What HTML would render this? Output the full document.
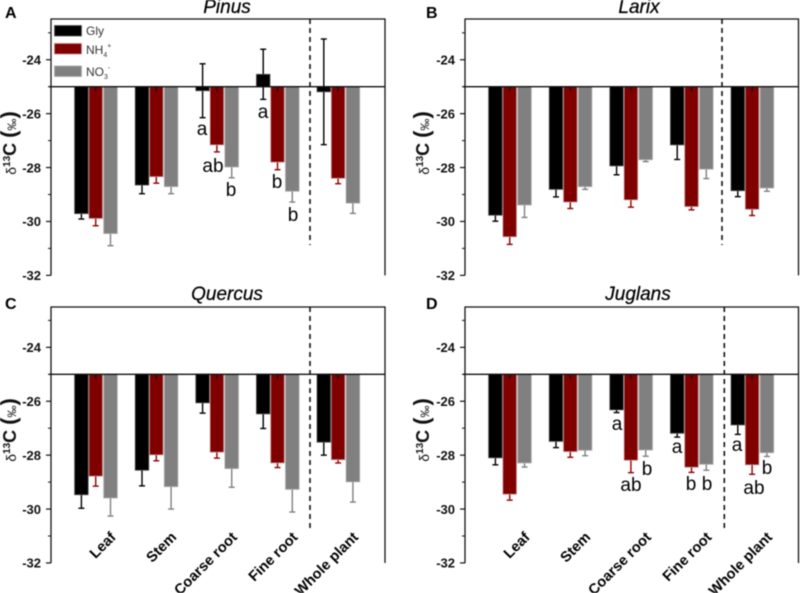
<!DOCTYPE html>
<html>
<head>
<meta charset="utf-8">
<title>δ13C by organ and nitrogen source</title>
<style>
html,body{margin:0;padding:0;background:#fff;}
svg{display:block;filter:blur(0.45px);}
text{font-family:"Liberation Sans",sans-serif;fill:#000;}
.panel-letter{font-size:16px;font-weight:bold;}
.title{font-size:19px;font-style:italic;text-anchor:middle;stroke:#000;stroke-width:0.25px;}
.tick{font-size:13px;font-weight:bold;text-anchor:end;fill:#111;}
.sig{font-size:19px;text-anchor:middle;fill:#000;}
.legend{font-size:12px;fill:#333;}
.cat{font-size:14.6px;font-weight:bold;text-anchor:end;fill:#000;}
.ytitle{font-size:18px;font-weight:bold;text-anchor:middle;fill:#111;}
</style>
</head>
<body>
<svg id="chart" width="800" height="593" viewBox="0 0 800 593" xmlns="http://www.w3.org/2000/svg">
  <text class="panel-letter" x="5" y="18">A</text>
  <text class="panel-letter" x="426" y="18">B</text>
  <text class="panel-letter" x="5" y="309">C</text>
  <text class="panel-letter" x="426" y="309">D</text>
  <text class="title" x="227" y="13">Pinus</text>
  <text class="title" x="639" y="13">Larix</text>
  <text class="title" x="227" y="300">Quercus</text>
  <text class="title" x="638" y="300">Juglans</text>

  <g id="panels"></g>

  <text class="ytitle" transform="translate(16,143) rotate(-90)"><tspan font-weight="normal" font-size="14">δ</tspan><tspan font-size="10" dy="-6">13</tspan><tspan dy="6">C </tspan><tspan font-size="22">(</tspan><tspan font-size="12" font-weight="normal">‰</tspan><tspan font-size="22">)</tspan></text>
  <text class="ytitle" transform="translate(429,143) rotate(-90)"><tspan font-weight="normal" font-size="14">δ</tspan><tspan font-size="10" dy="-6">13</tspan><tspan dy="6">C </tspan><tspan font-size="22">(</tspan><tspan font-size="12" font-weight="normal">‰</tspan><tspan font-size="22">)</tspan></text>
  <text class="ytitle" transform="translate(16,430) rotate(-90)"><tspan font-weight="normal" font-size="14">δ</tspan><tspan font-size="10" dy="-6">13</tspan><tspan dy="6">C </tspan><tspan font-size="22">(</tspan><tspan font-size="12" font-weight="normal">‰</tspan><tspan font-size="22">)</tspan></text>
  <text class="ytitle" transform="translate(429,430) rotate(-90)"><tspan font-weight="normal" font-size="14">δ</tspan><tspan font-size="10" dy="-6">13</tspan><tspan dy="6">C </tspan><tspan font-size="22">(</tspan><tspan font-size="12" font-weight="normal">‰</tspan><tspan font-size="22">)</tspan></text>

  <g>
    <rect x="54.5" y="25.5" width="27" height="10.5" fill="#000" stroke="#555" stroke-width="0.8"/>
    <rect x="54.5" y="43.5" width="27" height="10.5" fill="#800000" stroke="#b88" stroke-width="0.8"/>
    <rect x="54.5" y="66" width="27" height="10.5" fill="#808080" stroke="#aaa" stroke-width="0.8"/>
    <text class="legend" x="86" y="35">Gly</text>
    <text class="legend" x="86" y="54">NH<tspan font-size="7" dy="3">4</tspan><tspan font-size="7" dy="-9">+</tspan></text>
    <text class="legend" x="86" y="76">NO<tspan font-size="7" dy="3">3</tspan><tspan font-size="7" dy="-9">-</tspan></text>
  </g>

  <g>
    <text class="sig" x="202" y="135">a</text>
    <text class="sig" x="213" y="172">ab</text>
    <text class="sig" x="231" y="196">b</text>
    <text class="sig" x="263" y="118">a</text>
    <text class="sig" x="277" y="188">b</text>
    <text class="sig" x="293" y="221">b</text>
    <text class="sig" x="617" y="430">a</text>
    <text class="sig" x="631" y="491">ab</text>
    <text class="sig" x="647" y="475">b</text>
    <text class="sig" x="677" y="453">a</text>
    <text class="sig" x="691" y="490">b</text>
    <text class="sig" x="707" y="490">b</text>
    <text class="sig" x="737" y="451">a</text>
    <text class="sig" x="754" y="494">ab</text>
    <text class="sig" x="767" y="474">b</text>
  </g>
</svg>
<script>
const categories = ['Leaf', 'Stem', 'Coarse root', 'Fine root', 'Whole plant'];
const majorTicks = [-24, -26, -28, -30, -32];
const minorTicks = [-23, -25, -27, -29, -31];
const seriesNames = ['gly', 'nh4', 'no3'];

const pinusGly = [-29.71, -28.65, -25.15, -24.54, -25.19];
const pinusNh4 = [-29.89, -28.34, -27.16, -27.80, -28.40];
const pinusNo3 = [-30.45, -28.71, -27.98, -28.88, -29.32];
const pinusGlyErr = [0.20, 0.32, 1.00, 0.93, 1.96];
const pinusNh4Err = [0.27, 0.24, 0.26, 0.28, 0.20];
const pinusNo3Err = [0.45, 0.26, 0.40, 0.40, 0.38];

const larixGly = [-29.77, -28.81, -27.94, -27.16, -28.86];
const larixNh4 = [-30.57, -29.28, -29.20, -29.45, -29.55];
const larixNo3 = [-29.39, -28.71, -27.71, -28.06, -28.76];
const larixGlyErr = [0.22, 0.28, 0.33, 0.54, 0.22];
const larixNh4Err = [0.28, 0.24, 0.27, 0.12, 0.23];
const larixNo3Err = [0.46, 0.10, 0.07, 0.35, 0.12];

const quercusGly = [-29.47, -28.56, -26.06, -26.47, -27.52];
const quercusNh4 = [-28.78, -27.99, -27.89, -28.29, -28.17];
const quercusNo3 = [-29.59, -29.17, -28.50, -29.27, -28.99];
const quercusGlyErr = [0.50, 0.58, 0.38, 0.54, 0.48];
const quercusNh4Err = [0.37, 0.22, 0.22, 0.17, 0.12];
const quercusNo3Err = [0.67, 0.83, 0.69, 0.84, 0.75];

const juglansGly = [-28.10, -27.49, -26.32, -27.19, -26.88];
const juglansNh4 = [-29.45, -27.87, -28.19, -28.45, -28.36];
const juglansNo3 = [-28.29, -27.82, -27.81, -28.34, -27.91];
const juglansGlyErr = [0.26, 0.23, 0.10, 0.14, 0.35];
const juglansNh4Err = [0.22, 0.21, 0.46, 0.19, 0.35];
const juglansNo3Err = [0.15, 0.20, 0.23, 0.22, 0.14];

const fills = ['#000000', '#800000', '#808080'];
const edges = ['#555555', '#c49a9a', '#adadad'];
const errColors = ['#000000', '#8f0000', '#808080'];

const panels = [
  { id: 'pinus', left: 51, right: 385, top: 19, zero: 86.7, first: 95.7, dash: 310, dashEnd: 245, labels: false,
    means: [pinusGly, pinusNh4, pinusNo3], errs: [pinusGlyErr, pinusNh4Err, pinusNo3Err] },
  { id: 'larix', left: 465, right: 798.5, top: 19, zero: 86.7, first: 509.7, dash: 722, dashEnd: 245, labels: false,
    means: [larixGly, larixNh4, larixNo3], errs: [larixGlyErr, larixNh4Err, larixNo3Err] },
  { id: 'quercus', left: 51, right: 385, top: 307, zero: 374.3, first: 95.7, dash: 310, dashEnd: 532, labels: true,
    means: [quercusGly, quercusNh4, quercusNo3], errs: [quercusGlyErr, quercusNh4Err, quercusNo3Err] },
  { id: 'juglans', left: 465, right: 798.5, top: 307, zero: 374.3, first: 509.7, dash: 724.3, dashEnd: 532, labels: true,
    means: [juglansGly, juglansNh4, juglansNo3], errs: [juglansGlyErr, juglansNh4Err, juglansNo3Err] }
];

const NS = 'http://www.w3.org/2000/svg';
const UNIT = 26.95;
const STEP = 60.6;
const BAR_W = 13.6;
const OFFSETS = [-14.3, 0, 14.8];
const root = document.getElementById('panels');

function make(parent, tag, props) {
  const el = document.createElementNS(NS, tag);
  for (const k in props) el.setAttribute(k, props[k]);
  parent.appendChild(el);
  return el;
}

function drawPanel(p) {
  const yAxis = function (v) { return p.zero + (-25 - v) * UNIT; };
  const xAxis = function (i) { return p.first + i * STEP; };
  const bottom = yAxis(-32);

  const g = make(root, 'g', {});
  
  

  p.means.forEach(function (values, s) {
    values.forEach(function (v, i) {
      const cx = xAxis(i) + OFFSETS[s];
      const e = p.errs[s][i];
      const stem = make(g, 'line', { x1: cx, x2: cx, y1: yAxis(v + e), y2: yAxis(v - e), stroke: errColors[s], 'stroke-width': 1.4 });
      
      
      [v + e, v - e].forEach(function (end) {
        const cap = make(g, 'line', { x1: cx - 3, x2: cx + 3, y1: yAxis(end), y2: yAxis(end), stroke: errColors[s], 'stroke-width': 1.4 });
        
        
      });
    });
  });

  p.means.forEach(function (values, s) {
    values.forEach(function (v, i) {
      const cx = xAxis(i) + OFFSETS[s];
      const y0 = Math.min(yAxis(v), yAxis(-25));
      const y1 = Math.max(yAxis(v), yAxis(-25));
      const bar = make(g, 'rect', { x: cx - BAR_W / 2, y: y0, width: BAR_W, height: y1 - y0, fill: fills[s], stroke: edges[s], 'stroke-width': 0.8 });
      
      
    });
  });

  categories.forEach(function (name, i) {
    const tk = make(g, 'line', { x1: xAxis(i), x2: xAxis(i), y1: p.zero, y2: p.zero + 5, stroke: '#111', 'stroke-width': 1.2 });
    
    
    if (p.labels) {
      const lx = xAxis(i) + 21;
      const ly = 538;
      const label = make(g, 'text', { class: 'cat', x: lx, y: ly, transform: 'rotate(-45 ' + lx + ' ' + ly + ')' });
      label.textContent = name;
      
      
    }
  });

  const frame = make(g, 'path', { d: 'M' + p.left + ' ' + bottom + 'V' + p.top + 'H' + p.right + 'V' + bottom, fill: 'none', stroke: '#111', 'stroke-width': 1.3 });
  
  

  const zeroLine = make(g, 'line', { x1: p.left - 2, x2: p.right, y1: p.zero, y2: p.zero, stroke: '#111', 'stroke-width': 1.4 });
  
  

  const dash = make(g, 'line', { x1: p.dash, x2: p.dash, y1: p.top, y2: p.dashEnd, stroke: '#111', 'stroke-width': 1.6, 'stroke-dasharray': '5 4' });
  
  

  majorTicks.forEach(function (v) {
    const t = make(g, 'line', { x1: p.left - 5, x2: p.left, y1: yAxis(v), y2: yAxis(v), stroke: '#111', 'stroke-width': 1.2 });
    
    
    const lab = make(g, 'text', { class: 'tick', x: p.left - 10, y: yAxis(v) + 4.7 });
    lab.textContent = String(v);
    
    
  });
  minorTicks.forEach(function (v) {
    const t = make(g, 'line', { x1: p.left - 3, x2: p.left, y1: yAxis(v), y2: yAxis(v), stroke: '#111', 'stroke-width': 1 });
    
    
  });
}

panels.forEach(drawPanel);
</script>
</body>
</html>
